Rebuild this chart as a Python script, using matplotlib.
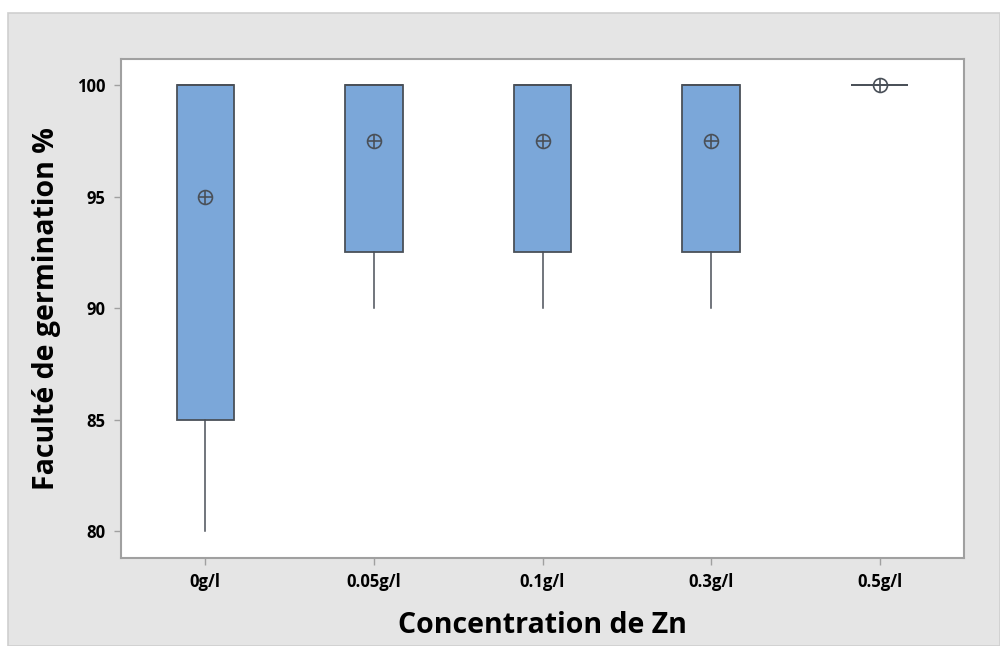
import matplotlib
matplotlib.use("Agg")
import matplotlib.pyplot as plt
from matplotlib.patches import Rectangle

# données (Minitab boxplot)
labels = ["0g/l", "0.05g/l", "0.1g/l", "0.3g/l", "0.5g/l"]
whislo = [80, 90, 90, 90, 100]
q1 = [85, 92.5, 92.5, 92.5, 100]
med = [100, 100, 100, 100, 100]
q3 = [100, 100, 100, 100, 100]
whishi = [100, 100, 100, 100, 100]
means = [95, 97.5, 97.5, 97.5, 100]

BLUE = "#7BA7D9"; EDGE = "#4A5058"; GRID = "#A0A0A0"
plt.rcParams["font.family"] = ["Open Sans", "DejaVu Sans"]

fig = plt.figure(figsize=(10, 6.46), dpi=100, facecolor="white")
fig.patches.append(Rectangle((8/1000, 0), 1 - 8/1000, 1 - 13/646, transform=fig.transFigure,
                             fc="#E5E5E5", ec="#CFCFCF", lw=1.2, zorder=-1))
ax = fig.add_axes([121/1000, 1 - 558/646, (964-121)/1000, (558-59)/646])

stats = [dict(label=l, whislo=a, q1=b, med=c, q3=d, whishi=e, fliers=[])
         for l, a, b, c, d, e in zip(labels, whislo, q1, med, q3, whishi)]
ax.bxp(stats, positions=range(1, 6), widths=0.34, showcaps=False, patch_artist=True,
       boxprops=dict(fc=BLUE, ec=EDGE, lw=1.3),
       whiskerprops=dict(color=EDGE, lw=1.1),
       medianprops=dict(color=EDGE, lw=1.3))
x = range(1, 6)
ax.plot(x, means, "o", ms=10, mfc="none", mec=EDGE, mew=1.2, ls="none", zorder=5)
ax.plot(x, means, "+", ms=10, mec=EDGE, mew=1.2, ls="none", zorder=5)

ax.set_xlim(0.5, 5.5); ax.set_ylim(78.8, 101.17)
ax.set_yticks([80, 85, 90, 95, 100])
ax.set_xticks(list(x)); ax.set_xticklabels(labels)
for s in ax.spines.values():
    s.set_color(GRID); s.set_linewidth(1.5)
ax.tick_params(direction="out", length=5, color=GRID, width=1, labelsize=12, pad=6)
for t in ax.get_xticklabels() + ax.get_yticklabels():
    t.set_fontweight("bold")
ax.set_xlabel("Concentration de Zn", fontsize=20.5, fontweight="bold", labelpad=14)
ax.set_ylabel("Faculté de germination %", fontsize=20.5, fontweight="bold", labelpad=12)

fig.savefig("out.png", dpi=100, facecolor=fig.get_facecolor())
